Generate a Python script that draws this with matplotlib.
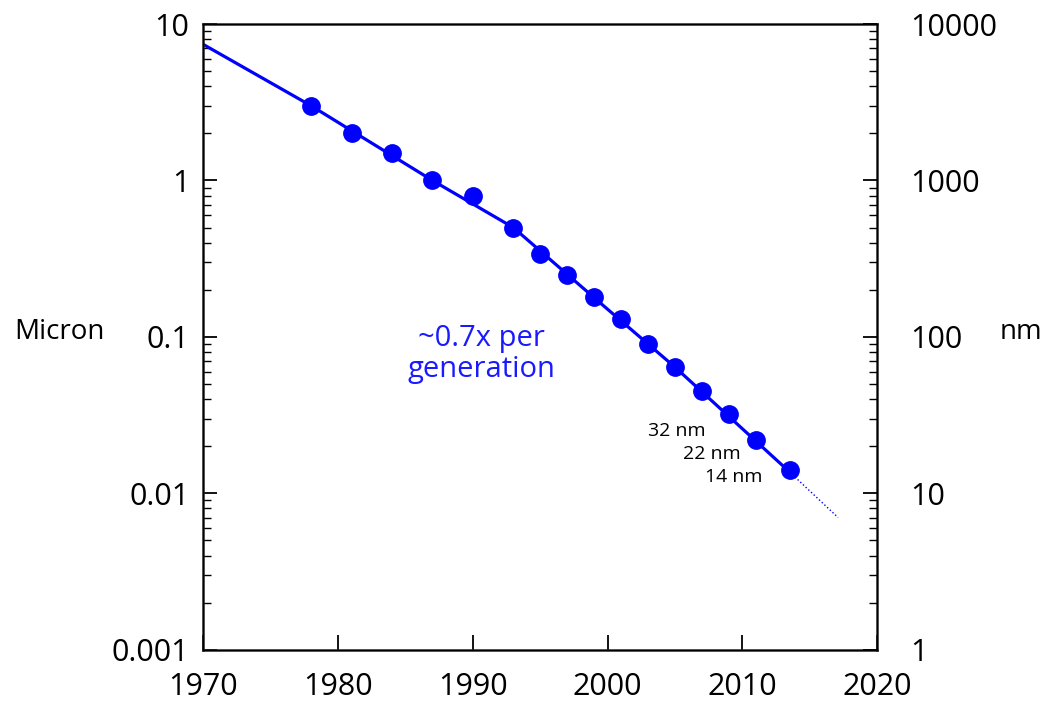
import matplotlib.pyplot as plt
import matplotlib.ticker as mticker

plt.rcParams['font.family'] = ['Open Sans', 'DejaVu Sans']

# process node introductions (year, feature size in micron)
years = [1978, 1981, 1984, 1987, 1990, 1993, 1995, 1997, 1999, 2001,
         2003, 2005, 2007, 2009, 2011, 2013.5]
micron = [3.0, 2.0, 1.5, 1.0, 0.8, 0.5, 0.34, 0.25, 0.18, 0.13,
          0.09, 0.064, 0.045, 0.032, 0.022, 0.014]

# trend line through the nodes, and its dotted extension
trend_years = [1970, 1978, 1987, 1993, 1999, 2005, 2013.5]
trend_micron = [7.4, 3.0, 1.0, 0.5, 0.178, 0.064, 0.0137]
ext_years = [2013.5, 2017.1]
ext_micron = [0.0137, 0.0070]

node_labels = ['32 nm', '22 nm', '14 nm']
node_label_x = [2007.3, 2009.9, 2011.5]
node_label_y = [0.0250, 0.0178, 0.0127]

fig = plt.figure(figsize=(10.43, 7.07), dpi=100)
ax = fig.add_axes([0.195, 0.081, 0.646, 0.885])

ax.plot(trend_years, trend_micron, color='#0000ff', lw=2.3, zorder=2)
ax.plot(ext_years, ext_micron, color='#0000ff', lw=1.0, ls=':', zorder=2)
ax.plot(years, micron, 'o', color='#0000ff', ms=12.5, zorder=3)

ax.set_yscale('log')
ax.set_xlim(1970, 2020)
ax.set_ylim(0.001, 10)
ax.set_xticks([1970, 1980, 1990, 2000, 2010, 2020])
ax.set_yticks([0.001, 0.01, 0.1, 1, 10])
ax.set_yticklabels(['0.001', '0.01', '0.1', '1', '10'])
ax.yaxis.set_minor_locator(mticker.LogLocator(base=10, subs=range(2, 10)))
ax.yaxis.set_minor_formatter(mticker.NullFormatter())
ax.tick_params(axis='x', direction='in', length=11, width=1.3, pad=16,
               labelsize=22, top=False)
ax.tick_params(axis='y', which='major', direction='in', length=10, width=1.3,
               pad=10, labelsize=22)
ax.tick_params(axis='y', which='minor', direction='in', length=6, width=1.0)
for s in ax.spines.values():
    s.set_linewidth(1.8)
    s.set_color('#222222')

# right axis in nm
ax2 = ax.twinx()
ax2.set_yscale('log')
ax2.set_ylim(1, 10000)
ax2.set_yticks([1, 10, 100, 1000, 10000])
ax2.set_yticklabels(['1', '10', '100', '1000', '10000'])
ax2.yaxis.set_minor_locator(mticker.LogLocator(base=10, subs=range(2, 10)))
ax2.yaxis.set_minor_formatter(mticker.NullFormatter())
ax2.tick_params(axis='y', which='major', direction='in', length=10, width=1.3,
                pad=24, labelsize=22)
ax2.tick_params(axis='y', which='minor', direction='in', length=6, width=1.0)

fig.text(0.014, 1 - 332 / 707, 'Micron', fontsize=20, va='center')
fig.text(0.958, 1 - 332 / 707, 'nm', fontsize=20, va='center')

ax.text(1990.6, 0.078, '~0.7x per\ngeneration', color='#1a1aff', fontsize=21,
        ha='center', va='center', multialignment='center', linespacing=1.1)
for lab, x, y in zip(node_labels, node_label_x, node_label_y):
    ax.text(x, y, lab, fontsize=14, ha='right', va='center')

plt.savefig('out.png')
